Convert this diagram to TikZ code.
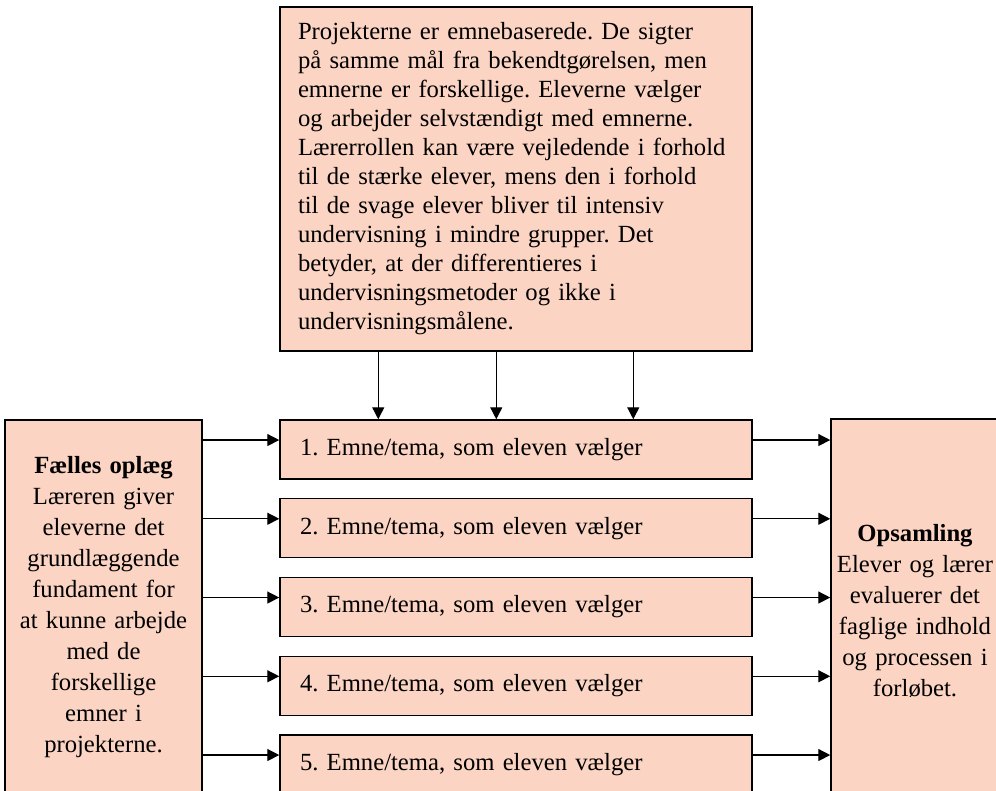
\documentclass[tikz,border=0pt]{standalone}
\usepackage{fontspec}
\setmainfont{Liberation Serif}
\usetikzlibrary{arrows.meta}
\definecolor{peach}{RGB}{251,212,195}
\tikzset{
  box/.style={draw=black, line width=1.1pt, fill=peach, inner sep=0pt},
  emnebox/.style={box, minimum width=354pt, minimum height=44.25pt, text width=324pt, align=left},
  arr/.style={-{Triangle[length=9pt,width=9pt]}, line width=1pt},
  bodytext/.style={font=\fontsize{18.5}{21.75}\selectfont},
  sidetext/.style={font=\fontsize{18.5}{23.25}\selectfont},
}
\frenchspacing

\begin{document}
\begin{tikzpicture}[x=0.75pt,y=-0.75pt]
  \clip (0,0) rectangle (996,791);
  % projektbeskrivelse
  \node[box, bodytext, minimum width=354pt, minimum height=258pt, text width=327pt, align=left] (proj) at (516,179)
    {Projekterne er emnebaserede. De sigter\\
     på samme mål fra bekendtgørelsen, men\\
     emnerne er forskellige. Eleverne vælger\\
     og arbejder selvstændigt med emnerne.\\
     Lærerrollen kan være vejledende i forhold\\
     til de stærke elever, mens den i forhold\\
     til de svage elever bliver til intensiv\\
     undervisning i mindre grupper. Det\\
     betyder, at der differentieres i\\
     undervisningsmetoder og ikke i\\
     undervisningsmålene.};
  % emner
  \foreach \i in {1,...,5}
    \node[emnebox, bodytext] (t\i) at (516,{449.5+78.75*(\i-1)}) {\i. Emne/tema, som eleven vælger};
  % sider
  \node[box, sidetext, minimum width=147.75pt, minimum height=280.5pt, text width=140pt, align=center] (faelles) at (103.5,607)
    {\textbf{Fælles oplæg}\\ Læreren giver\\ eleverne det\\ grundlæggende\\ fundament for\\ at kunne arbejde\\ med de\\ forskellige\\ emner i\\ projekterne.};
  \node[box, sidetext, minimum width=126pt, minimum height=288pt, text width=120pt, align=center] (opsamling) at (915,611)
    {\textbf{Opsamling}\\ Elever og lærer\\ evaluerer det\\ faglige indhold\\ og processen i\\ forløbet.};
  % pile
  \foreach \dx in {74.25pt,162.75pt,265.5pt}
    \draw[arr] ([xshift=\dx]proj.south west) -- ([xshift=\dx]t1.north west);
  \foreach \i in {1,...,5} {
    \coordinate (in\i) at ([yshift=7.1pt]t\i.west);
    \coordinate (out\i) at ([yshift=7.1pt]t\i.east);
    \draw[arr] (faelles.east |- in\i) -- (in\i);
    \draw[arr] (out\i) -- (opsamling.west |- out\i);
  }
\end{tikzpicture}
\end{document}
